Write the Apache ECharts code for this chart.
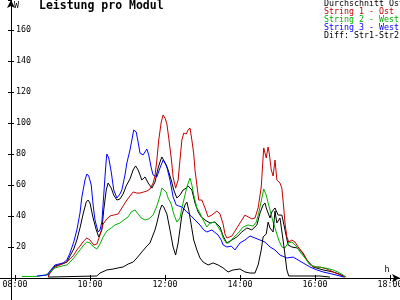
<!DOCTYPE html>
<html><head><meta charset="utf-8">
<script src="https://cdn.jsdelivr.net/npm/echarts@6/dist/echarts.min.js"></script>
<style>html,body{margin:0;padding:0;background:#fff}#c{width:400px;height:300px}</style>
</head><body><div id="c"></div>
<script>
const chartTitle = "Leistung pro Modul";
const yUnit = "W";
const xUnit = "h";
const seriesNames = ["Durchschnitt Ost", "String 1 - Ost", "String 2 - West", "String 3 - West", "Diff: Str1-Str2"];
const seriesColors = ["#000000", "#c40000", "#00b000", "#0000ff", "#000000"];

const durchschnitt = [["08:53",1.3],["08:56",3.9],["09:04",7.7],["09:15",9],["09:23",10.3],["09:28",14.2],["09:34",18.7],["09:39",24.5],["09:44",32.3],["09:49",41.3],["09:54",49],["09:57",50.3],["10:00",48.4],["10:05",38.7],["10:10",31],["10:14",26.5],["10:19",31],["10:22",43.9],["10:26",56.8],["10:29",61.3],["10:34",58],["10:38",53.5],["10:43",50.3],["10:48",51],["10:53",54.2],["10:58",59.4],["11:04",63.9],["11:09",69.7],["11:13",72.3],["11:17",69.7],["11:20",66.5],["11:23",63.2],["11:28",65.2],["11:33",61.3],["11:39",58],["11:44",61.9],["11:49",71],["11:52",74.8],["11:55",78.1],["11:58",77.4],["12:02",72.9],["12:05",69.7],["12:10",63.2],["12:14",56.8],["12:19",51.6],["12:24",53.5],["12:29",56.8],["12:34",58],["12:37",59.4],["12:40",60],["12:43",56.8],["12:48",48.4],["12:53",42.6],["12:58",39.4],["13:04",37.4],["13:12",35.5],["13:20",36.1],["13:28",32.9],["13:33",27.1],["13:39",22.6],["13:47",24.5],["13:55",26.5],["14:03",29.7],["14:11",32.3],["14:19",31],["14:27",34.2],["14:32",41.9],["14:37",47.1],["14:40",48.4],["14:42",45.2],["14:48",38.7],["14:51",42.6],["14:56",45.2],["15:01",40.6],["15:04",39.4],["15:07",40.6],["15:12",31],["15:17",21.3],["15:23",20],["15:31",19.4],["15:39",16.8],["15:47",11.6],["15:57",7.1],["16:13",5.2],["16:29",3.9],["16:43",1.9],["16:48",0.6]];

const string1Ost = [["08:53",0.6],["08:56",3.2],["09:04",7.1],["09:15",9],["09:23",10.3],["09:28",12.3],["09:34",14.8],["09:39",18.1],["09:44",20.6],["09:50",23.9],["09:55",25.8],["10:00",24.5],["10:06",21.3],["10:11",21.9],["10:16",27.7],["10:21",34.8],["10:27",38.1],["10:32",40],["10:38",40.6],["10:45",41.3],["10:51",45.2],["10:59",50.3],["11:04",52.9],["11:09",55.5],["11:15",54.8],["11:20",54.8],["11:26",55.5],["11:31",56.1],["11:36",57.4],["11:41",61.3],["11:44",65.8],["11:47",76.1],["11:50",89],["11:54",100.6],["11:57",105.2],["12:00",103.2],["12:03",99.4],["12:06",90.3],["12:10",77.4],["12:13",65.2],["12:17",58],["12:21",63.2],["12:24",76.1],["12:27",89],["12:30",93.5],["12:34",92.9],["12:37",95.5],["12:40",96.8],["12:43",89],["12:46",80],["12:48",69.7],["12:51",60],["12:54",50.3],["12:59",50.3],["13:04",45.2],["13:09",39.4],["13:15",40.6],["13:23",43.2],["13:28",41.3],["13:33",34.8],["13:36",28.4],["13:39",25.8],["13:47",27.1],["13:52",30.3],["14:00",35.5],["14:08",40.6],["14:13",39.4],["14:19",38.1],["14:24",38.7],["14:29",45.2],["14:34",58.7],["14:37",78.1],["14:38",83.9],["14:41",83],["14:42",77.4],["14:45",84.5],["14:47",80],["14:50",69.7],["14:53",65.8],["14:56",76.1],["14:59",63.2],["15:04",61.3],["15:07",58],["15:10",45.2],["15:12",35.5],["15:15",26.5],["15:18",23.2],["15:23",24.5],["15:28",23.2],["15:33",20],["15:41",16.1],["15:49",10.3],["15:57",7.1],["16:08",7.1],["16:19",5.8],["16:29",3.9],["16:37",2.6],["16:48",0.6]];

const string2West = [["08:11",1],["08:35",1],["08:48",1.9],["08:53",2.6],["08:56",3.9],["09:04",6.5],["09:15",7.7],["09:23",8.4],["09:28",10.3],["09:34",12.9],["09:39",15.5],["09:44",18.1],["09:50",21.3],["09:55",23.2],["10:00",22.6],["10:06",20],["10:11",18.7],["10:16",21.9],["10:21",26.5],["10:27",30.3],["10:34",32.3],["10:40",34.2],["10:48",35.5],["10:54",37.4],["11:01",39.4],["11:06",42.6],["11:12",43.9],["11:17",41.3],["11:22",38.7],["11:28",37.4],["11:34",38.1],["11:41",40.6],["11:47",46.5],["11:52",52.9],["11:55",58],["11:58",58.7],["12:02",55.5],["12:05",51.6],["12:10",47.7],["12:14",41.3],["12:19",36.1],["12:24",38.7],["12:27",45.2],["12:32",53.5],["12:35",58.7],["12:40",64.5],["12:43",60],["12:46",53.5],["12:51",45.2],["12:56",41.9],["13:01",37.4],["13:07",32.9],["13:12",35.5],["13:20",36.1],["13:25",32.9],["13:30",29.7],["13:33",25.8],["13:38",22.6],["13:42",22.6],["13:49",25.8],["13:57",29],["14:05",32.9],["14:13",34.2],["14:21",33.5],["14:26",36.1],["14:30",41.9],["14:35",51.6],["14:38",57.4],["14:42",53.5],["14:45",48.4],["14:48",43.9],["14:53",36.1],["14:58",29.7],["15:02",24.5],["15:07",20],["15:12",19.4],["15:17",22.6],["15:23",23.2],["15:30",20.6],["15:36",16.8],["15:44",12.9],["15:52",8.4],["16:03",7.1],["16:16",6.5],["16:29",5.2],["16:40",3.2],["16:50",0.6]];

const string3West = [["08:35",1.3],["08:51",1.9],["08:56",4.5],["09:04",8.4],["09:17",9.7],["09:23",11.6],["09:28",16.1],["09:34",23.2],["09:39",31],["09:44",41.9],["09:47",52.3],["09:52",63.2],["09:55",67.1],["09:58",65.8],["10:02",60],["10:05",47.1],["10:08",37.4],["10:13",29.7],["10:16",31],["10:19",36.1],["10:22",53.5],["10:24",65.2],["10:26",76.1],["10:27",80],["10:30",77.4],["10:34",68.4],["10:38",56.8],["10:43",51.6],["10:48",54.2],["10:51",56.8],["10:56",66.5],["10:59",74.2],["11:04",82.6],["11:07",89],["11:10",95.5],["11:14",94.2],["11:17",87.7],["11:20",80.6],["11:25",79.4],["11:28",81.3],["11:31",83.2],["11:34",79.4],["11:38",71],["11:41",66.5],["11:47",65.2],["11:52",71],["11:57",76.1],["12:00",74.2],["12:03",71.6],["12:08",63.2],["12:13",52.3],["12:18",47.1],["12:22",46.5],["12:27",45.8],["12:35",42.6],["12:42",40],["12:48",37.4],["12:56",34.2],["13:02",31],["13:07",29.7],["13:15",31],["13:25",27.7],["13:30",24.5],["13:33",21.3],["13:39",20],["13:46",20.6],["13:52",18.1],["14:00",22.6],["14:08",24.5],["14:16",27.1],["14:24",25.8],["14:32",24.5],["14:40",23.2],["14:48",20],["14:56",18.1],["15:04",14.8],["15:15",12.9],["15:25",13.5],["15:33",11.6],["15:41",9.7],["15:52",7.1],["16:03",5.2],["16:13",3.9],["16:27",2.6],["16:40",1.3],["16:46",0.6]];

const diffStr1Str2 = [["08:53",0.6],["10:11",1.3],["10:16",3.2],["10:27",5.2],["10:37",5.8],["10:45",6.5],["10:53",7.1],["11:01",9],["11:09",10.3],["11:15",12.9],["11:23",16.8],["11:31",20.6],["11:36",22.6],["11:39",25.8],["11:44",31],["11:47",35.5],["11:52",43.9],["11:55",47.1],["11:58",45.8],["12:03",41.3],["12:08",31],["12:13",20],["12:17",14.8],["12:21",22.6],["12:27",40.6],["12:32",47.1],["12:35",49],["12:38",43.9],["12:42",34.2],["12:46",24.5],["12:51",18.1],["12:56",12.9],["13:01",10.3],["13:09",8.4],["13:17",9.7],["13:25",8.4],["13:33",6.5],["13:41",3.9],["13:49",5.2],["14:00",5.8],["14:08",3.9],["14:16",3.2],["14:24",3.2],["14:29",8.4],["14:34",18.1],["14:37",26.5],["14:42",28.4],["14:45",36.1],["14:48",32.3],["14:53",29.7],["14:56",43.2],["14:59",35.5],["15:04",38.7],["15:07",38.1],["15:10",21.3],["15:15",5.2],["15:18",1.3],["15:25",1.3],["16:08",1.3],["16:24",0.6]];

const allSeries = [durchschnitt, string1Ost, string2West, string3West, diffStr1Str2];

const font = "DejaVu Sans Mono";
function toHours(s){ const p = s.split(":"); return +p[0] + (+p[1])/60; }
function pad(n){ return (n < 10 ? "0" : "") + n; }

const chart = echarts.init(document.getElementById("c"), null, {renderer: "canvas"});
const yCommon = {type:"value", gridIndex:0, min:0, max:179.35, interval:20, position:"left", offset:-71, splitLine:{show:false}};
const xCommon = {type:"value", gridIndex:0, min:6, max:18.2667, interval:2, position:"bottom", splitLine:{show:false}};
chart.setOption({
  animation:false,
  backgroundColor:"#ffffff",
  title:{text:chartTitle, left:39, top:0, padding:0,
    textStyle:{fontFamily:font, fontWeight:"bold", fontSize:11.5, color:"#000"}},
  legend:{orient:"vertical", left:319, top:0, padding:0, itemGap:0, itemWidth:0, itemHeight:0,
    icon:"rect", selectedMode:false,
    textStyle:{fontFamily:font, fontSize:8.3, lineHeight:8},
    data: seriesNames.map((n,i)=>({name:n, textStyle:{color:seriesColors[i]}}))},
  grid:[
    {left:-60, right:0, top:0, bottom:22, containLabel:false, outerBoundsMode:"none"},
    {left:-60, right:0, top:278, bottom:-9, containLabel:false, outerBoundsMode:"none"}
  ],
  xAxis:[
    Object.assign({}, xCommon, {
      name:xUnit, nameLocation:"end", nameGap:-13,
      nameTextStyle:{fontFamily:font, fontSize:8.3, color:"#000", align:"center", verticalAlign:"bottom", padding:[0,0,4,0]},
      axisLine:{show:true, onZero:false, lineStyle:{color:"#000", width:1}, symbol:["none","arrow"], symbolSize:[6,8]},
      axisTick:{show:true, inside:false, length:3, lineStyle:{color:"#000"}},
      axisLabel:{show:true, margin:3, showMaxLabel:false, fontFamily:font, fontSize:8.3, color:"#000",
        formatter:v => (v>=8 && v<=18) ? pad(v)+":00" : ""}
    }),
    Object.assign({}, xCommon, {
      axisLine:{show:false, onZero:false},
      axisTick:{show:true, inside:true, length:3, lineStyle:{color:"#000"}},
      axisLabel:{show:false}
    }),
    {type:"value", gridIndex:1, min:0, max:1, show:false}
  ],
  yAxis:[
    Object.assign({}, yCommon, {
      name:yUnit, nameLocation:"end", nameGap:-6,
      nameTextStyle:{fontFamily:font, fontSize:8.3, color:"#000", align:"left", verticalAlign:"middle", padding:[0,0,0,3]},
      axisLine:{show:true, onZero:false, lineStyle:{color:"#000", width:1}, symbol:["none","arrow"], symbolSize:[6,8]},
      axisTick:{show:true, inside:true, length:3, lineStyle:{color:"#000"}},
      axisLabel:{show:true, inside:true, margin:5, showMaxLabel:false, showMinLabel:false, fontFamily:font, fontSize:8.3, color:"#000",
        formatter:v => (v>0 && v<170) ? String(v) : ""}
    }),
    Object.assign({}, yCommon, {
      axisLine:{show:false, onZero:false},
      axisTick:{show:true, inside:false, length:3, lineStyle:{color:"#000"}},
      axisLabel:{show:false}
    }),
    {type:"value", gridIndex:1, min:0, max:1, position:"left", offset:-71, splitLine:{show:false},
      axisLine:{show:true, onZero:false, lineStyle:{color:"#000", width:1}},
      axisTick:{show:false}, axisLabel:{show:false}}
  ],
  series: allSeries.map((d,i)=>({
    name:seriesNames[i], type:"line", xAxisIndex:0, yAxisIndex:0,
    showSymbol:false, symbol:"none", smooth:false,
    lineStyle:{color:seriesColors[i], width:1}, itemStyle:{color:seriesColors[i]},
    data:d.map(p=>[toHours(p[0]), p[1]])
  }))
});
</script></body></html>
